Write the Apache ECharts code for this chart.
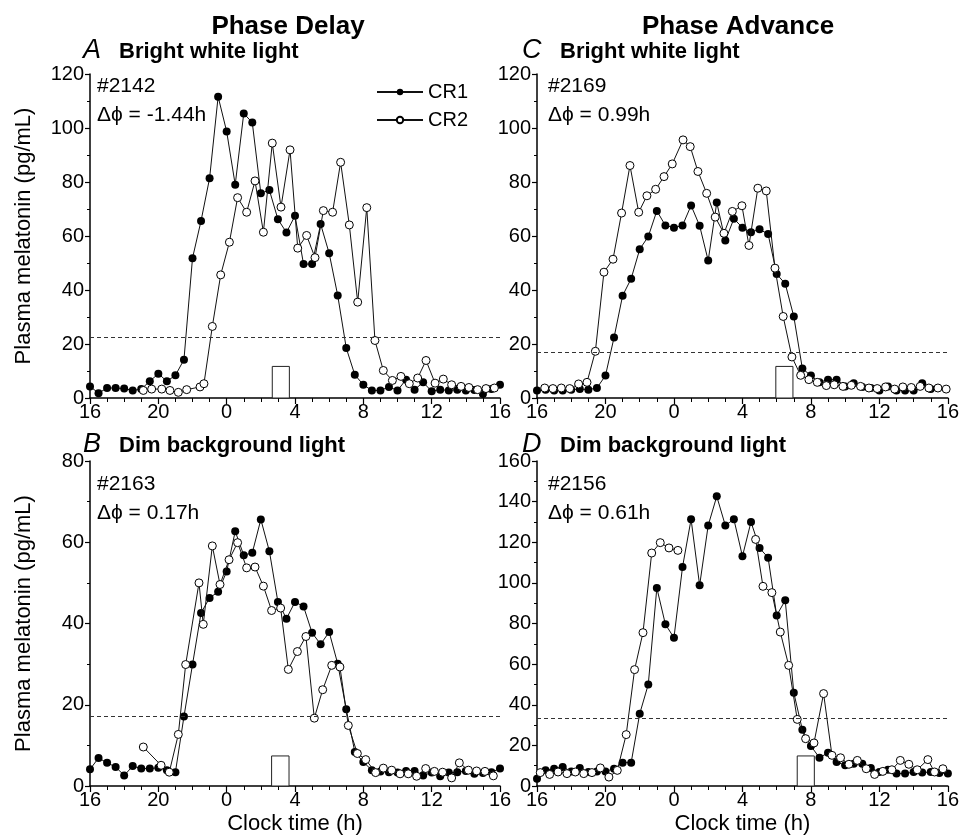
<!DOCTYPE html>
<html>
<head>
<meta charset="utf-8">
<script src="https://cdn.jsdelivr.net/npm/echarts@6/dist/echarts.min.js"></script>
<style>
  html, body { margin: 0; padding: 0; background: #fff; }
  #chart { width: 962px; height: 839px; }
</style>
</head>
<body>
<div id="chart"></div>
<script>
// clock time in hours, 16 .. 40 (40 = 16h next day)
var xTicks = [16, 20, 24, 28, 32, 36, 40];

// A: phase delay, bright white light (#2142)
var aCr1 = [[16,4.3],[16.5,1.8],[17,3.7],[17.5,3.7],[18,3.5],[18.5,2.8],[19,3.3],[19.5,6.2],[20,9.0],[20.5,6.2],
  [21,8.4],[21.5,14.2],[22,51.8],[22.5,65.6],[23,81.4],[23.5,111.6],[24,98.7],[24.5,79],[25,105.4],[25.5,102],
  [26,75.8],[26.5,77],[27,66.2],[27.5,61.3],[28,67.5],[28.5,49.6],[29,49.6],[29.5,64.4],[30,53.6],[30.5,38],
  [31,18.5],[31.5,8.6],[32,4.9],[32.5,2.8],[33,2.8],[33.5,4.1],[34,2.8],[34.5,6.8],[35,3.1],[35.5,5.8],
  [36,2.5],[36.5,3.1],[37,2.8],[37.5,3.1],[38,2.8],[38.5,3.0],[39,1.5],[39.5,3.3],[40,4.9]];
var aCr2 = [[19.12,2.8],[19.61,3.3],[20.2,3.3],[20.68,2.8],[21.17,2.1],[21.66,3.1],[22.44,4.1],[22.67,5.3],
  [23.16,26.5],[23.65,45.6],[24.16,57.7],[24.64,74.2],[25.17,68.8],[25.66,80.4],[26.15,61.4],[26.67,94.4],
  [27.18,70.7],[27.71,91.9],[28.16,55.5],[28.68,60.2],[29.17,52],[29.66,69.4],[30.2,68.8],[30.67,87.3],
  [31.18,64.1],[31.67,35.5],[32.2,70.5],[32.68,21.3],[33.17,10.2],[33.7,6.5],[34.2,8],[34.69,5.3],[35.18,7.4],
  [35.67,13.9],[36.2,5.5],[36.68,7],[37.17,4.9],[37.72,4.3],[38.18,3.9],[38.69,3.1],[39.18,3.5],[39.67,3.7]];

// B: phase delay, dim background light (#2163)
var bCr1 = [[16,4.1],[16.5,6.9],[17,5.7],[17.5,4.7],[18,2.6],[18.5,4.9],[19,4.3],[19.5,4.3],[20,4.5],[20.5,3.9],
  [21,3.4],[21.5,17.1],[22,29.9],[22.5,42.6],[23,46.3],[23.5,47.8],[24,52.8],[24.5,62.7],[25,56.8],[25.5,57.4],
  [26,65.6],[26.5,57.8],[27,45.3],[27.5,41.2],[28,45.3],[28.5,44.2],[29,37.7],[29.5,34.9],[30,37.9],[30.5,30.1],
  [31,18.9],[31.5,8.4],[32,5.9],[32.5,3.9],[33,3.6],[33.5,3.4],[34,3.3],[34.5,3.7],[35,3.7],[35.5,2.6],
  [36,3.3],[36.5,2.4],[37,3.3],[37.5,3.4],[38,3.7],[38.5,3.0],[39,3.2],[39.5,3.4],[40,4.3]];
var bCr2 = [[19.12,9.6],[20.16,5.1],[20.64,3.4],[21.17,12.7],[21.6,29.9],[22.38,50],[22.63,39.8],[23.16,59.1],
  [23.61,49.6],[24.14,55.7],[24.64,59.9],[25.17,53.7],[25.66,53.9],[26.15,49.2],[26.63,43.2],[27.16,43.8],
  [27.61,28.7],[28.14,33.1],[28.64,36.8],[29.13,16.7],[29.62,23.7],[30.15,29.7],[30.63,29.3],[31.12,14.9],
  [31.65,8.0],[32.14,6.5],[32.72,3.3],[33.17,4.4],[33.66,3.9],[34.15,3.0],[34.63,3.0],[35.12,2.4],[35.65,4.3],
  [36.16,3.6],[36.64,3.4],[37.17,2.0],[37.62,5.7],[38.15,3.9],[38.63,3.7],[39.12,3.6],[39.61,2.5]];

// C: phase advance, bright white light (#2169)
var cCr1 = [[16,2.8],[16.5,3.1],[17,2.8],[17.5,2.8],[18,3.1],[18.5,3.3],[19,3.1],[19.5,3.7],[20,8.3],[20.5,22.4],
  [21,37.9],[21.5,44.2],[22,55.1],[22.5,59.8],[23,69.3],[23.5,63.9],[24,63.1],[24.5,63.9],[25,71.3],[25.5,63.8],
  [26,50.9],[26.5,72.4],[27,58.3],[27.5,66.4],[28,63.1],[28.5,61.4],[29,62.5],[29.5,60.7],[30,45.9],[30.5,42.3],
  [31,30.2],[31.5,10.9],[32,8.3],[32.5,5.8],[33,6.8],[33.5,6.8],[34,4.3],[34.5,5.5],[35,4.1],[35.5,3.7],
  [36,2.8],[36.5,4.3],[37,2.8],[37.5,2.8],[38,2.8],[38.5,5.5],[39,3.3]];
var cCr2 = [[16.45,3.7],[16.93,3.5],[17.42,3.7],[17.91,3.5],[18.43,5.2],[18.92,5.8],[19.41,17.3],[19.91,46.6],
  [20.44,51.4],[20.94,68.5],[21.43,86.1],[21.94,68.8],[22.42,74.9],[22.93,77.3],[23.42,82],[23.9,86.7],
  [24.53,95.6],[24.95,93.1],[25.4,83.9],[25.91,75.8],[26.41,67],[26.92,61],[27.41,69.1],[27.97,71.2],
  [28.38,56.5],[28.9,77.7],[29.39,76.7],[29.9,48.1],[30.38,30.2],[30.89,15.2],[31.4,8.4],[31.88,6.8],
  [32.37,5.8],[32.9,4.6],[33.36,4.9],[33.87,4.3],[34.36,4.7],[34.9,4.3],[35.39,3.7],[35.87,3.5],[36.36,4.1],
  [36.89,3.3],[37.37,4.1],[37.86,3.9],[38.38,4.3],[38.89,3.7],[39.42,3.7],[39.9,3.3]];

// D: phase advance, dim background light (#2156)
var dCr1 = [[16,3.6],[16.5,7.7],[17,8.5],[17.5,9.4],[18,7.2],[18.5,8.9],[19,6.9],[19.5,7.2],[20,7.2],[20.5,8.5],
  [21,11.5],[21.5,11.5],[22,35.6],[22.5,50],[23,97.5],[23.5,79.6],[24,73],[24.5,107.8],[25,131.3],[25.5,98.8],
  [26,128.3],[26.5,142.6],[27,128.3],[27.5,131.3],[28,113.1],[28.5,130],[29,117.2],[29.5,112.4],[30,84],[30.5,91.4],
  [31,45.9],[31.5,27.7],[32,19.7],[32.5,13.9],[33,16.4],[33.5,11.8],[34,10.2],[34.5,11],[35,11],[35.5,8.9],
  [36,6.9],[36.5,8],[37,6.1],[37.5,6.1],[38,6.9],[38.5,6.6],[39,6.9],[39.5,6.4],[40,6.1]];
var dCr2 = [[16.19,6.6],[16.74,5.7],[17.23,6.9],[17.75,6.1],[18.24,6.9],[18.73,6.1],[19.21,6.6],[19.7,8.9],
  [20.2,4.4],[20.69,7.7],[21.21,25.3],[21.7,57.3],[22.19,75.5],[22.7,114.7],[23.2,119.8],[23.71,117.2],
  [24.23,116],[26.5,null],[28.77,121.4],[29.2,98.3],[29.72,95.2],[30.21,75.8],[30.7,59.4],[31.2,32.8],
  [31.69,23.3],[32.18,21.2],[32.74,45.5],[33.23,15.1],[33.73,13.9],[34.22,10.7],[34.71,12.6],[35.23,8.5],
  [35.72,5.7],[36.2,7.2],[36.73,8],[37.22,12.6],[37.72,10.7],[38.21,8],[38.83,13],[39.22,6.9],[39.71,8.5]];

// threshold (dashed) per panel
var thresholds = [22.4, 17.1, 16.9, 33.5];
// light pulse box per panel: [start, end, height]
var pulses = [[26.67, 27.67, 11.7], [26.63, 27.65, 7.4], [29.95, 30.95, 11.7], [31.2, 32.2, 14.8]];
var yMax = [120, 80, 120, 160];
var subjects = ['#2142', '#2163', '#2169', '#2156'];
var shifts = ['\u0394\u03d5 = -1.44h', '\u0394\u03d5 = 0.17h', '\u0394\u03d5 = 0.99h', '\u0394\u03d5 = 0.61h'];
var letters = ['A', 'B', 'C', 'D'];
var conditions = ['Bright white light', 'Dim background light', 'Bright white light', 'Dim background light'];

var cr1Data = [aCr1, bCr1, cCr1, dCr1];
var cr2Data = [aCr2, bCr2, cCr2, dCr2];

var font = 'Liberation Sans, Arial, Helvetica, sans-serif';
var grids = [
  {left: 90, top: 74, width: 410, height: 324},
  {left: 90, top: 461, width: 410, height: 325},
  {left: 537, top: 74, width: 411, height: 324},
  {left: 537, top: 461, width: 411, height: 325}
];

var xAxes = [], yAxes = [], series = [], graphics = [];

grids.forEach(function(g, i) {
  var bottomRow = (i === 1 || i === 3);
  xAxes.push({
    type: 'value', gridIndex: i, min: 16, max: 40, interval: 4,
    name: bottomRow ? 'Clock time (h)' : '', nameLocation: 'middle', nameGap: 27,
    nameTextStyle: {color: '#000', fontSize: 22, fontFamily: font},
    axisLine: {lineStyle: {color: '#000', width: 1.5}},
    axisTick: {show: true, inside: false, length: 6, lineStyle: {color: '#000', width: 1.2}},
    minorTick: {show: true, splitNumber: 4, length: 4, lineStyle: {color: '#000', width: 1}},
    splitLine: {show: false},
    axisLabel: {color: '#000', fontSize: 20, fontFamily: font, margin: 4,
      formatter: function(v) { return String(v % 24); }}
  });
  yAxes.push({
    type: 'value', gridIndex: i, min: 0, max: yMax[i], interval: 20,
    name: (i < 2) ? 'Plasma melatonin (pg/mL)' : '', nameLocation: 'middle', nameGap: 55,
    nameTextStyle: {color: '#000', fontSize: 22, fontFamily: font},
    axisLine: {show: true, lineStyle: {color: '#000', width: 1.5}},
    axisTick: {show: true, inside: false, length: 5, lineStyle: {color: '#000', width: 1.2}},
    minorTick: {show: true, splitNumber: 2, length: 3, lineStyle: {color: '#000', width: 1}},
    splitLine: {show: false},
    axisLabel: {color: '#000', fontSize: 20, fontFamily: font, margin: 6}
  });

  var p = pulses[i];
  series.push({
    name: 'CR1', type: 'line', xAxisIndex: i, yAxisIndex: i, data: cr1Data[i],
    symbol: 'circle', symbolSize: 8, z: 3,
    itemStyle: {color: '#000', borderColor: '#000', borderWidth: 0},
    lineStyle: {color: '#111', width: 1},
    markLine: {silent: true, symbol: 'none', label: {show: false},
      lineStyle: {type: [4, 3], color: '#333', width: 1},
      data: [{yAxis: thresholds[i]}]},
    markArea: {silent: true,
      itemStyle: {color: '#fff', borderColor: '#222', borderWidth: 1},
      data: [[{coord: [p[0], 0]}, {coord: [p[1], p[2]]}]]}
  });
  series.push({
    name: 'CR2', type: 'line', xAxisIndex: i, yAxisIndex: i, data: cr2Data[i],
    symbol: 'circle', symbolSize: 8, z: 4, connectNulls: false,
    itemStyle: {color: '#fff', borderColor: '#000', borderWidth: 1},
    lineStyle: {color: '#111', width: 1}
  });

  var lx = (i < 2) ? 83 : 522;
  var tx = (i < 2) ? 119 : 560;
  var ty = (i % 2 === 0) ? 53 : 447;
  graphics.push({type: 'text', left: lx, top: ty - 16,
    style: {text: letters[i], fill: '#000', font: 'italic 27px ' + font}});
  graphics.push({type: 'text', left: tx, top: ty - 12,
    style: {text: conditions[i], fill: '#000', font: 'bold 22px ' + font}});
  var ax = (i < 2) ? 97 : 548;
  var ay = (i % 2 === 0) ? 87 : 485;
  graphics.push({type: 'text', left: ax, top: ay - 11,
    style: {text: subjects[i], fill: '#000', font: '21px ' + font}});
  graphics.push({type: 'text', left: ax, top: ay + 18,
    style: {text: shifts[i], fill: '#000', font: '21px ' + font}});
});

var chart = echarts.init(document.getElementById('chart'), null, {renderer: 'canvas'});
chart.setOption({
  backgroundColor: '#fff',
  animation: false,
  title: [
    {text: 'Phase Delay', left: 283, top: 9, textAlign: 'center',
      textStyle: {fontSize: 26, fontWeight: 'bold', color: '#000', fontFamily: font}},
    {text: 'Phase Advance', left: 733, top: 9, textAlign: 'center',
      textStyle: {fontSize: 26, fontWeight: 'bold', color: '#000', fontFamily: font}}
  ],
  legend: {
    data: ['CR1', 'CR2'], orient: 'vertical', left: 371, top: 77,
    itemWidth: 46, itemHeight: 8, itemGap: 8,
    textStyle: {color: '#000', fontSize: 20, fontFamily: font},
    selectedMode: false
  },
  grid: grids,
  xAxis: xAxes,
  yAxis: yAxes,
  series: series,
  graphic: graphics
});
</script>
</body>
</html>
